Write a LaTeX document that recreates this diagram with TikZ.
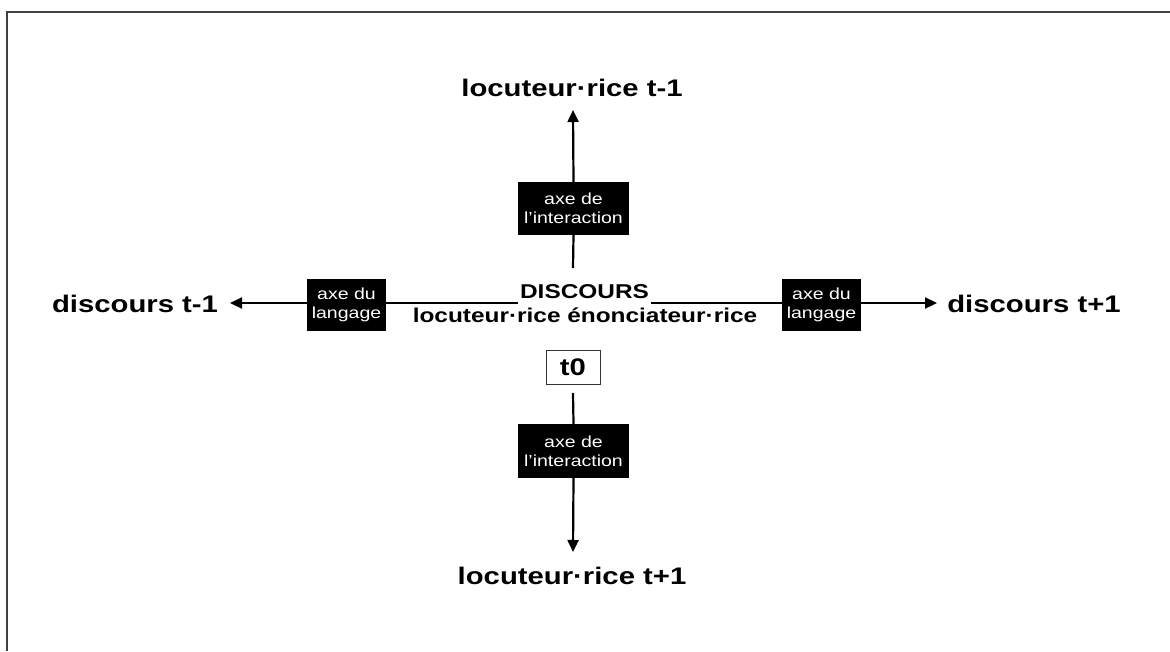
\documentclass[tikz,border=0pt]{standalone}
\usepackage{fontspec}
\setmainfont{Liberation Sans}[FakeStretch=1.22]
\usetikzlibrary{arrows.meta}
\tikzset{
  big/.style={font=\fontsize{24}{28}\selectfont\bfseries, inner sep=0pt, anchor=base},
  mid/.style={font=\fontsize{20}{24}\selectfont\bfseries, inner sep=4pt, anchor=base},
  axebox/.style={fill=black, text=white, align=center, inner sep=0pt,
     font=\fontsize{16}{19}\selectfont},
  tbox/.style={draw=black!80, line width=1pt, inner sep=0pt, minimum width=54pt, minimum height=34pt,
     font=\fontsize{24}{28}\selectfont\bfseries},
  axis/.style={line width=2.2pt, black},
  arr/.style={axis, -{Triangle[length=12pt,width=11pt]}},
  frame/.style={line width=2pt, draw=black!75}
}
\begin{document}
\begin{tikzpicture}[x=1pt,y=-1pt]
\useasboundingbox (0,0) rectangle (1170,651);
\fill[white] (0,0) rectangle (1170,651);
\draw[frame] (7,651) -- (7,12) -- (1170,12);

% labels
\node[big] (top) at (572,96) {locuteur·rice t-1};
\node[big] (bot) at (572,584) {locuteur·rice t+1};
\node[big] (left) at (135,312) {discours t-1};
\node[big] (right) at (1034,312) {discours t+1};
\node[mid] (disc) at (584.5,298) {DISCOURS};
\node[mid] (enon) at (585,322) {locuteur·rice énonciateur·rice};
\node[tbox] (t0) at (573,367) {t0};

% axis boxes
\node[axebox, minimum width=111pt, minimum height=53pt] (topbox) at (573.5,208.5) {axe de\\l’interaction};
\node[axebox, minimum width=111pt, minimum height=54pt] (botbox) at (573.5,451) {axe de\\l’interaction};
\node[axebox, minimum width=79pt, minimum height=52pt] (lbox) at (346.5,305) {axe du\\langage};
\node[axebox, minimum width=79pt, minimum height=52pt] (rbox) at (821.5,305) {axe du\\langage};

% coordinates
\coordinate (cTop) at (573,268);
\coordinate (cBot) at (573,393);
\coordinate (tipTop) at (573,110);
\coordinate (tipBot) at (573,552);
\coordinate (tipLeft) at (230,303);
\coordinate (tipRight) at (937,303);
\coordinate (lStart) at (518,303);
\coordinate (rStart) at (651,303);

% connectors
\draw[axis] (cTop) -- (topbox.south);
\draw[arr] (topbox.north) -- (tipTop);
\draw[axis] (cBot) -- (botbox.north);
\draw[arr] (botbox.south) -- (tipBot);
\draw[axis] (lStart) -- (lStart -| lbox.east);
\draw[arr] (lStart -| lbox.west) -- (tipLeft);
\draw[axis] (rStart) -- (rStart -| rbox.west);
\draw[arr] (rStart -| rbox.east) -- (tipRight);
\end{tikzpicture}
\end{document}
